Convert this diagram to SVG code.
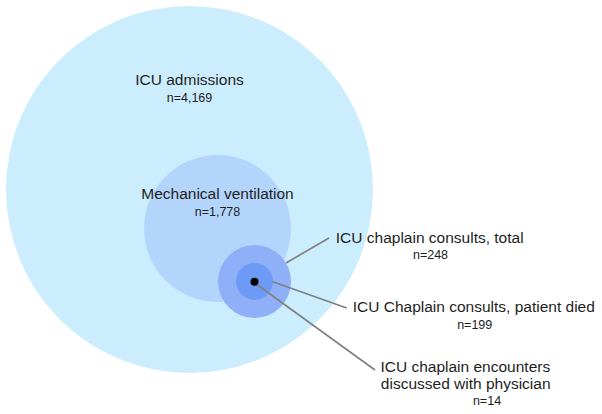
<svg xmlns="http://www.w3.org/2000/svg" width="602" height="414" viewBox="0 0 602 414">
<style>
.t{font-family:"Liberation Sans",Arial,sans-serif;font-size:15.5px;fill:#1e1e1e;text-anchor:middle}
.n{font-family:"Liberation Sans",Arial,sans-serif;font-size:12.5px;fill:#1e1e1e;text-anchor:middle}
.c{stroke:#7f7f7f;stroke-width:1.6;fill:none}
</style>
<rect width="602" height="414" fill="#ffffff"/>
<g id="icu-admissions">
<circle cx="189.5" cy="189.5" r="183.5" fill="#cbedfd"/>
<text class="t" x="189.5" y="85">ICU admissions</text>
<text class="n" x="189.5" y="101.5">n=4,169</text>
</g>
<g id="mechanical-ventilation">
<circle cx="217.5" cy="228.5" r="73.5" fill="#b4d5fb"/>
<text class="t" x="217.5" y="199">Mechanical ventilation</text>
<text class="n" x="217.5" y="216">n=1,778</text>
</g>
<g id="chaplain-total">
<circle cx="254.5" cy="281.5" r="36.5" fill="#8fb0f8"/>
</g>
<g id="chaplain-died">
<circle cx="254.5" cy="281.5" r="18.5" fill="#6d9af6"/>
</g>
<g id="chaplain-physician">
<circle cx="254.5" cy="281.7" r="4" fill="#000000"/>
</g>
<g id="connectors">
<line class="c" x1="286" y1="263" x2="329" y2="238"/>
<line class="c" x1="272.7" y1="281.7" x2="346.7" y2="308"/>
<line class="c" x1="257.5" y1="285" x2="375" y2="370"/>
</g>
<g id="labels">
<text class="t" x="429.7" y="243.3">ICU chaplain consults, total</text>
<text class="n" x="430.5" y="259.3">n=248</text>
<text class="t" x="473.8" y="311.7">ICU Chaplain consults, patient died</text>
<text class="n" x="474.7" y="329">n=199</text>
<text class="t" x="465.3" y="372.3">ICU chaplain encounters</text>
<text class="t" x="465.7" y="389">discussed with physician</text>
<text class="n" x="487" y="405">n=14</text>
</g>
</svg>
